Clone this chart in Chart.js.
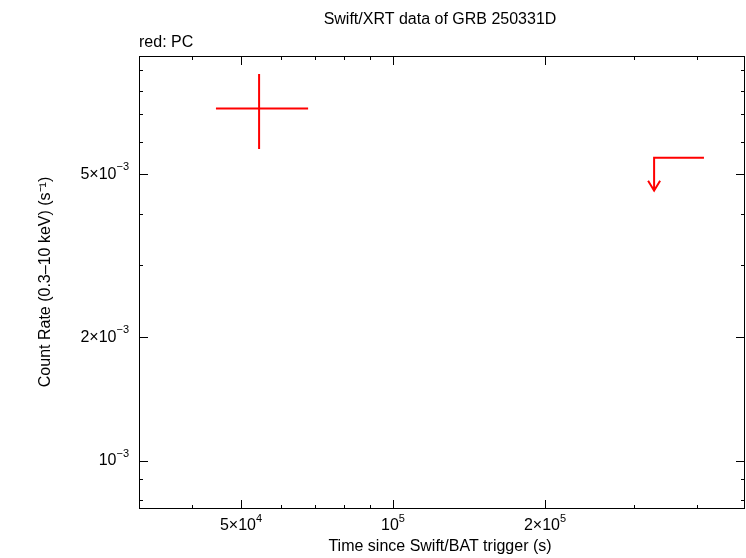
<!DOCTYPE html>
<html>
<head>
<meta charset="utf-8">
<script src="https://cdn.jsdelivr.net/npm/chart.js@4/dist/chart.umd.min.js"></script>
<style>body{margin:0;background:#fff}</style>
</head>
<body>
<canvas id="c" width="746" height="558"></canvas>
<script>
// PC detection: time, time err low/high, rate, rate low/high
const pcTime = [54300];
const pcTimeLo = [44600];
const pcTimeHi = [67900];
const pcRate = [7.24e-3];
const pcRateLo = [5.76e-3];
const pcRateHi = [8.79e-3];
// upper limit
const ulTimeLo = [329000];
const ulTimeHi = [413000];
const ulRate = [5.49e-3];
const ulTip = [4.56e-3];

const xMajor = [[5e4, '5×10', '4'], [1e5, '10', '5'], [2e5, '2×10', '5']];
const xMinor = [4e4, 6e4, 7e4, 8e4, 9e4, 3e5, 4e5];
const yMajor = [[1e-3, '10', '−3'], [2e-3, '2×10', '−3'], [5e-3, '5×10', '−3']];
const yMinor = [8e-4, 9e-4, 3e-3, 4e-3, 6e-3, 7e-3, 8e-3, 9e-3];

const FONT = '"Liberation Sans", Arial, sans-serif';

function supLabel(ctx, x, y, base, sup, align) {
  ctx.font = '16px ' + FONT;
  const wb = ctx.measureText(base).width;
  ctx.font = '11px ' + FONT;
  const ws = ctx.measureText(sup).width;
  let x0 = align === 'right' ? x - wb - ws : x - (wb + ws) / 2;
  ctx.textAlign = 'left';
  ctx.textBaseline = 'middle';
  ctx.font = '16px ' + FONT;
  ctx.fillText(base, x0, y);
  ctx.font = '11px ' + FONT;
  ctx.fillText(sup, x0 + wb, y - 7);
}

const drawPlugin = {
  id: 'drawPlugin',
  afterDraw(chart) {
    const ctx = chart.ctx, a = chart.chartArea;
    const xs = chart.scales.x, ys = chart.scales.y;
    ctx.save();
    ctx.strokeStyle = '#000';
    ctx.fillStyle = '#000';
    ctx.lineWidth = 1;
    ctx.strokeRect(a.left + 0.5, a.top + 0.5, a.right - a.left - 1, a.bottom - a.top - 1);
    ctx.beginPath();
    const tick = (v, len, axis) => {
      if (axis === 'x') {
        const p = Math.round(xs.getPixelForValue(v)) + 0.5;
        ctx.moveTo(p, a.bottom); ctx.lineTo(p, a.bottom - len);
        ctx.moveTo(p, a.top); ctx.lineTo(p, a.top + len);
      } else {
        const p = Math.round(ys.getPixelForValue(v)) + 0.5;
        ctx.moveTo(a.left, p); ctx.lineTo(a.left + len, p);
        ctx.moveTo(a.right, p); ctx.lineTo(a.right - len, p);
      }
    };
    xMajor.forEach(t => tick(t[0], 9, 'x'));
    xMinor.forEach(v => tick(v, 4, 'x'));
    yMajor.forEach(t => tick(t[0], 9, 'y'));
    yMinor.forEach(v => tick(v, 4, 'y'));
    ctx.stroke();

    xMajor.forEach(t => supLabel(ctx, xs.getPixelForValue(t[0]), a.bottom + 17, t[1], t[2], 'center'));
    yMajor.forEach(t => supLabel(ctx, a.left - 10, ys.getPixelForValue(t[0]), t[1], t[2], 'right'));

    ctx.font = '16px ' + FONT;
    ctx.textAlign = 'center';
    ctx.textBaseline = 'middle';
    ctx.fillText('Swift/XRT data of GRB 250331D', 440, 20);
    ctx.fillText('Time since Swift/BAT trigger (s)', 440, 547);
    ctx.textAlign = 'left';
    ctx.fillText('red: PC', 139, 43);
    ctx.save();
    ctx.translate(46, 282);
    ctx.rotate(-Math.PI / 2);
    ctx.textAlign = 'center';
    ctx.fillText('Count Rate (0.3\u201310 keV) (s\u207B\u00B9)', 0, 0);
    ctx.restore();

    // data
    ctx.strokeStyle = '#ff0000';
    ctx.lineWidth = 2;
    ctx.beginPath();
    pcTime.forEach((t, i) => {
      const px = xs.getPixelForValue(t), py = ys.getPixelForValue(pcRate[i]);
      ctx.moveTo(xs.getPixelForValue(pcTimeLo[i]), py);
      ctx.lineTo(xs.getPixelForValue(pcTimeHi[i]), py);
      ctx.moveTo(px, ys.getPixelForValue(pcRateLo[i]));
      ctx.lineTo(px, ys.getPixelForValue(pcRateHi[i]));
    });
    ulRate.forEach((r, i) => {
      const x0 = xs.getPixelForValue(ulTimeLo[i]), x1 = xs.getPixelForValue(ulTimeHi[i]);
      const py = ys.getPixelForValue(r), pt = ys.getPixelForValue(ulTip[i]);
      ctx.moveTo(x1, py); ctx.lineTo(x0, py); ctx.lineTo(x0, pt);
      ctx.moveTo(x0 - 6, pt - 10); ctx.lineTo(x0, pt); ctx.lineTo(x0 + 6, pt - 10);
    });
    ctx.stroke();
    ctx.restore();
  }
};

new Chart(document.getElementById('c'), {
  type: 'scatter',
  data: {
    datasets: [{
      label: 'PC',
      data: pcTime.map((t, i) => ({ x: t, y: pcRate[i] })),
      pointRadius: 0,
      showLine: false
    }]
  },
  options: {
    responsive: false,
    animation: false,
    layout: { padding: { left: 131, right: 1, top: 56, bottom: 41 } },
    plugins: { legend: { display: false }, tooltip: { enabled: false } },
    scales: {
      x: { type: 'logarithmic', min: 31400, max: 498000,
           ticks: { display: false }, grid: { display: false }, border: { display: false } },
      y: { type: 'logarithmic', min: 7.62e-4, max: 9.72e-3,
           ticks: { display: false }, grid: { display: false }, border: { display: false } }
    }
  },
  plugins: [drawPlugin]
});
</script>
</body>
</html>
